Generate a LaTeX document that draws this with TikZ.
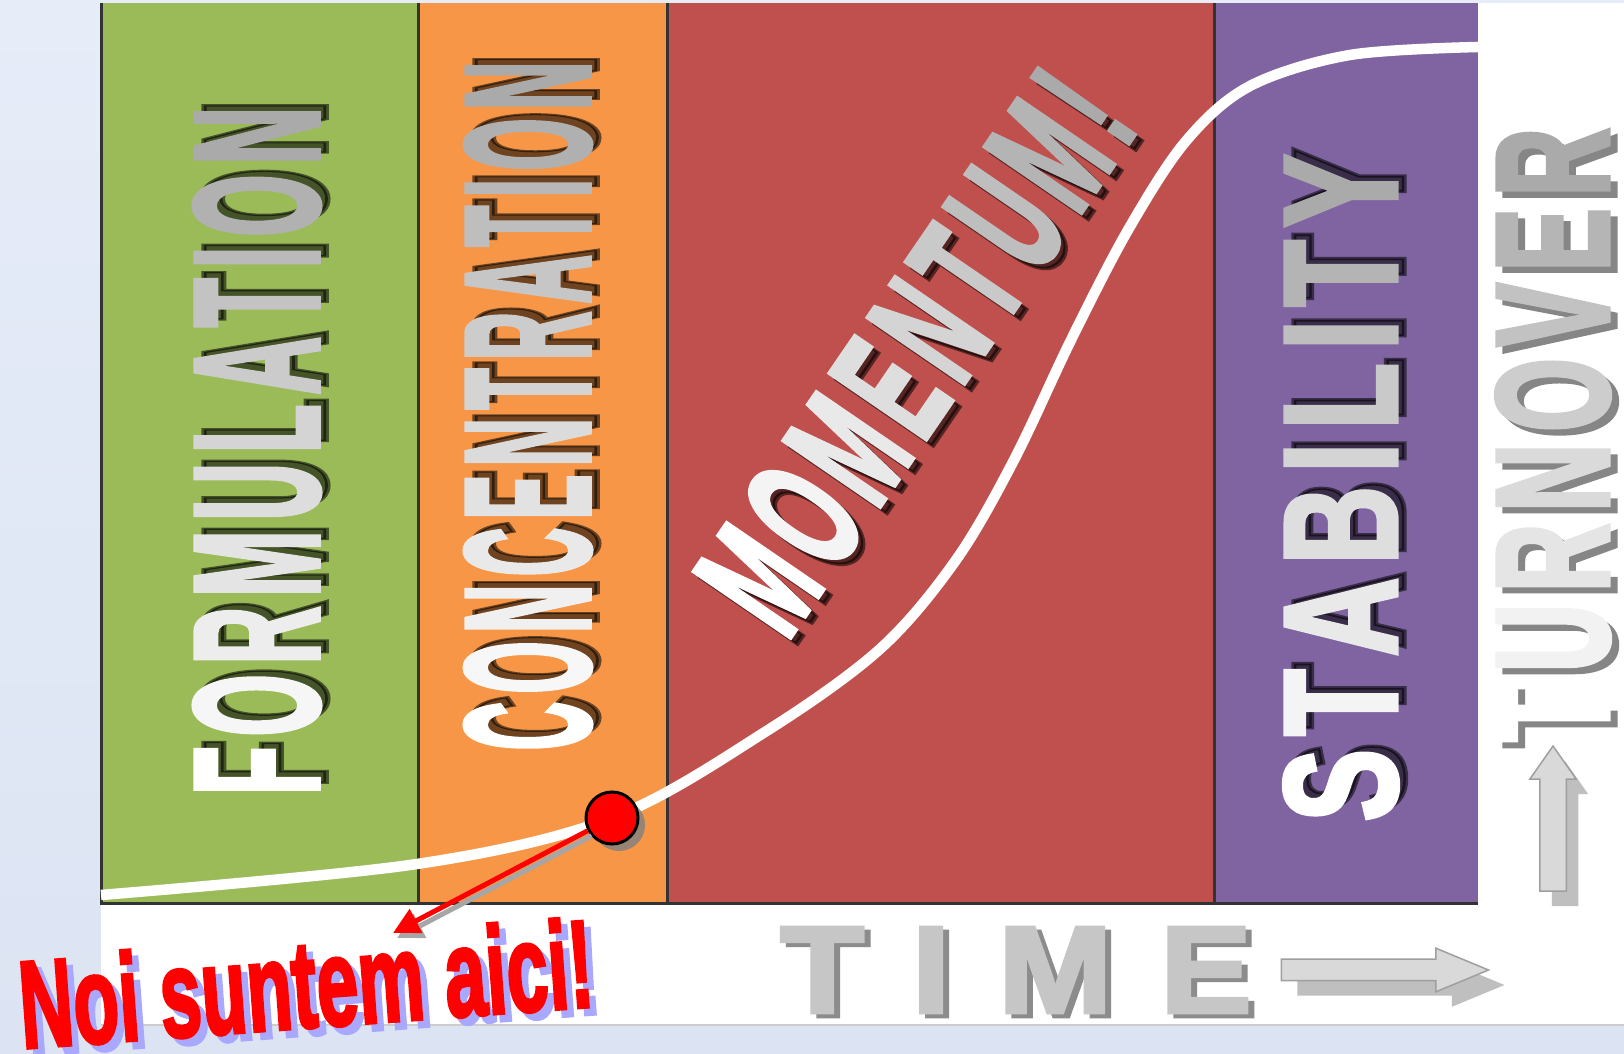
\documentclass[tikz,border=0pt]{standalone}
\usepackage{fontspec}
\setmainfont{Liberation Sans}
\newfontfamily\heavyfont{Liberation Sans Bold}[FakeBold=3]
\usepackage{tikz}
\usetikzlibrary{arrows.meta,shapes.arrows,shadows}
\definecolor{formgreen}{HTML}{9BBB59}
\definecolor{concorange}{HTML}{F79646}
\definecolor{momred}{HTML}{C0504D}
\definecolor{stabpurple}{HTML}{8064A2}
\definecolor{paleblue}{HTML}{E6ECF8}
\definecolor{midblue}{HTML}{C3D3EE}
\definecolor{lowblue}{HTML}{DCE4F3}
\definecolor{lavender}{HTML}{A8A8FF}
\tikzstyle{stage}=[inner sep=0pt,font=\heavyfont]
\tikzstyle{stageshade}=[stage,text=black,text opacity=0.55]
\tikzstyle{sep}=[draw=black!80,line width=0.3mm]
\tikzstyle{greyarrow}=[single arrow,draw=gray!75,fill=gray!30,line width=0.15mm,inner xsep=0pt]
% letters fading from white (first) to grey (last)
\newcommand\fadeword[2]{\foreach \c [count=\i] in {#2}{\ifnum\i>1 \hspace{0.12em}\fi\pgfmathtruncatemacro\m{100-67*(\i-1)/(#1-1)}\textcolor{white!\m!gray}{\c}}}
\newcommand\flatword[1]{\foreach \c [count=\i] in {#1}{\ifnum\i>1 \hspace{0.12em}\fi\c}}

\begin{document}
\begin{tikzpicture}[x=0.1mm,y=-0.1mm]
  \useasboundingbox (0,0) rectangle (1624,1054);
  \shade[top color=paleblue,middle color=midblue,bottom color=lowblue] (0,0) rectangle (1624,1054);
  \fill[white] (101,3) rectangle (1624,1025);
  \draw[gray!40,line width=0.2mm] (101,1025) -- (1624,1025);

  % the four stages
  \fill[formgreen] (101,3) rectangle (418,904);
  \fill[concorange] (418,3) rectangle (667,904);
  \fill[momred] (667,3) rectangle (1214,904);
  \fill[stabpurple] (1214,3) rectangle (1478,904);
  \draw[sep] (101,3) -- (101,904) -- (1478,904);
  \draw[sep] (418,3) -- (418,904);
  \draw[sep] (667,3) -- (667,904);
  \draw[sep] (1214,3) -- (1214,904);

  % growth curve
  \draw[white,line width=1.05mm] plot[smooth,tension=0.55] coordinates {(101,895) (417,864) (612,818) (765,732) (880,649) (956,560) (1014,460) (1071,340) (1128,230) (1186,141) (1250,86) (1350,55) (1478,47)};

  \node[stageshade,rotate=90] (form-s) at (265,444) {\resizebox{68.8mm}{12.4mm}{\flatword{F,O,R,M,U,L,A,T,I,O,N}}};
  \node[stage,rotate=90] (form) at (257,451) {\resizebox{68.8mm}{12.4mm}{\fadeword{11}{F,O,R,M,U,L,A,T,I,O,N}}};
  \node[stageshade,rotate=90] (conc-s) at (536,399) {\resizebox{68.9mm}{12.4mm}{\flatword{C,O,N,C,E,N,T,R,A,T,I,O,N}}};
  \node[stage,rotate=90] (conc) at (528,406) {\resizebox{68.9mm}{12.4mm}{\fadeword{13}{C,O,N,C,E,N,T,R,A,T,I,O,N}}};
  \node[stageshade,rotate=55.6] (mom-s) at (922,358) {\resizebox{62.5mm}{11.8mm}{\flatword{M,O,M,E,N,T,U,M,!}}};
  \node[stage,rotate=55.6] (mom) at (915,352) {\resizebox{62.5mm}{11.8mm}{\fadeword{9}{M,O,M,E,N,T,U,M,!}}};
  \node[stageshade,rotate=90] (stab-s) at (1349,481) {\resizebox{66.7mm}{11.2mm}{\flatword{S,T,A,B,I,L,I,T,Y}}};
  \node[stage,rotate=90] (stab) at (1341,488) {\resizebox{66.7mm}{11.2mm}{\fadeword{9}{S,T,A,B,I,L,I,T,Y}}};
  \node[stage,rotate=90,text=gray!95] (turn-s) at (1560,441) {\resizebox{61.4mm}{11.2mm}{\flatword{T,U,R,N,O,V,E,R}}};
  \node[stage,rotate=90] (turn) at (1553,435) {\resizebox{61.4mm}{11.2mm}{\fadeword{8}{T,U,R,N,O,V,E,R}}};

  % time axis
  \node[stage,text=gray!90] (time-s) at (1022,974) {\resizebox{47.1mm}{8.5mm}{T\hspace{0.35em}I\hspace{0.35em}M\hspace{0.35em}E}};
  \node[stage,text=gray!45] (time) at (1016,970) {\resizebox{47.1mm}{8.5mm}{T\hspace{0.35em}I\hspace{0.35em}M\hspace{0.35em}E}};
  \node[greyarrow,draw=none,fill=gray!50,minimum height=20.7mm,inner ysep=1mm,single arrow head extend=1.1mm,single arrow tip angle=45] (timearrow-s) at (1388,985) {};
  \node[greyarrow,minimum height=20.7mm,inner ysep=1mm,single arrow head extend=1.1mm,single arrow tip angle=45] (timearrow) at (1372,970) {};
  \node[greyarrow,draw=none,fill=gray!50,rotate=90,minimum height=14.5mm,inner ysep=1.25mm,single arrow head extend=1mm,single arrow tip angle=70] (uparrow-s) at (1565,843) {};
  \node[greyarrow,rotate=90,minimum height=14.5mm,inner ysep=1.25mm,single arrow head extend=1mm,single arrow tip angle=70] (uparrow) at (1553,828) {};

  % we are here
  \node[circle,fill=red,draw=black,line width=0.3mm,minimum size=5.2mm,inner sep=0pt,
        drop shadow={shadow xshift=0.7mm,shadow yshift=-0.7mm,fill=gray,opacity=0.8}] (dot) at (612,818) {};
  \coordinate (here) at (393,933);
  \draw[gray!70,line width=0.5mm,-{Triangle[length=2.6mm,width=2.6mm]},transform canvas={xshift=0.4mm,yshift=-0.5mm}] (dot) -- (here);
  \draw[red,line width=0.5mm,-{Triangle[length=2.6mm,width=2.6mm]}] (dot) -- (here);
  \node[stage,rotate=4.2,text=lavender] (aici-s) at (313,990) {\resizebox{57.5mm}{9mm}{Noi suntem aici!}};
  \node[stage,rotate=4.2,text=red] (aici) at (306,983) {\resizebox{57.5mm}{9mm}{Noi suntem aici!}};
\end{tikzpicture}
\end{document}
